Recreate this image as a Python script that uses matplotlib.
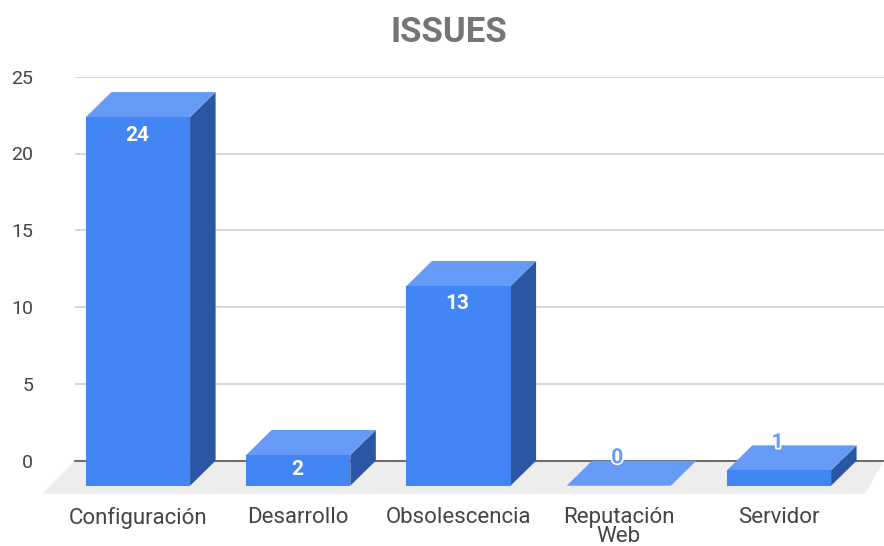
import matplotlib
matplotlib.use("Agg")
import matplotlib.pyplot as plt
import matplotlib.patheffects as pe

categories = ["Configuración", "Desarrollo", "Obsolescencia", "Reputación\nWeb", "Servidor"]
values = [24, 2, 13, 0, 1]
yticks = [0, 5, 10, 15, 20, 25]

plt.rcParams["font.family"] = ["Roboto", "DejaVu Sans"]

W, H = 884, 546
fig = plt.figure(figsize=(W / 100, H / 100), dpi=100)
ax = fig.add_axes([75 / W, (H - 460.7) / H, 809 / W, 384 / H])

# one category is 160.25 px wide, one y unit is 15.36 px
ax.set_xlim(-63 / 160.25, 746 / 160.25)
ax.set_ylim(0, 25)

# depth of the fake 3d box, in data units
dx = 25.5 / 160.25
dy = 25 / 15.36
hw = 0.325

blue = "#4285F4"
blue_top = "#659BF6"
blue_side = "#2A56A4"

for s in ax.spines.values():
    s.set_visible(False)
ax.set_yticks(yticks)
ax.set_yticklabels([str(t) for t in yticks], color="#444444", fontsize=14)
ax.set_xticks(range(len(categories)))
ax.set_xticklabels(categories, color="#444444", fontsize=16, linespacing=0.92, va="top")
ax.tick_params(axis="y", length=0, pad=30)
ax.tick_params(axis="x", length=0, pad=33)
ax.grid(axis="y", color="#CCCCCC", linewidth=1.1, zorder=1)
ax.grid(axis="x", visible=False)
ax.set_axisbelow(True)

# floor
x0, x1 = ax.get_xlim()
ax.fill([x0, x1, x1 - 19 / 160.25, x0 - 33 / 160.25],
        [0, 0, -33 / 15.36, -33 / 15.36],
        color="#EDEDED", lw=0, zorder=1.5, clip_on=False)
ax.plot([x0, x1], [0, 0], color="#555555", lw=1.2, zorder=2, clip_on=False)

for i, v in enumerate(values):
    l, r = i - hw, i + hw
    # side
    if v > 0:
        ax.fill([r, r + dx, r + dx, r], [-dy, 0, v, v - dy], color=blue_side, lw=0, zorder=3, clip_on=False)
    # top
    ax.fill([l, r, r + dx, l + dx], [v - dy, v - dy, v, v], color=blue_top, lw=0, zorder=3, clip_on=False)
    # front
    if v > 0:
        ax.fill([l, r, r, l], [-dy, -dy, v - dy, v - dy], color=blue, lw=0, zorder=4, clip_on=False)

    if v >= 2:
        off = 18 if v > 20 else 17 if v > 10 else 15
        ax.annotate(str(v), (i, v - dy), xytext=(-1 * 0.72, -off * 0.72), textcoords="offset points",
                    ha="center", va="center", color="white", fontsize=15, fontweight="bold",
                    zorder=6, annotation_clip=False)
    else:
        ax.annotate(str(v), (i, v), xytext=(-1.5 * 0.72, 3 * 0.72), textcoords="offset points",
                    ha="center", va="center", color=blue_top, fontsize=15, fontweight="bold",
                    zorder=6, annotation_clip=False,
                    path_effects=[pe.withStroke(linewidth=2.5, foreground="white")])

fig.text(449 / W, 1 - 32 / H, "ISSUES", ha="center", va="center", color="#757575",
         fontsize=25, fontweight="bold")

fig.savefig("out.png", dpi=100)
